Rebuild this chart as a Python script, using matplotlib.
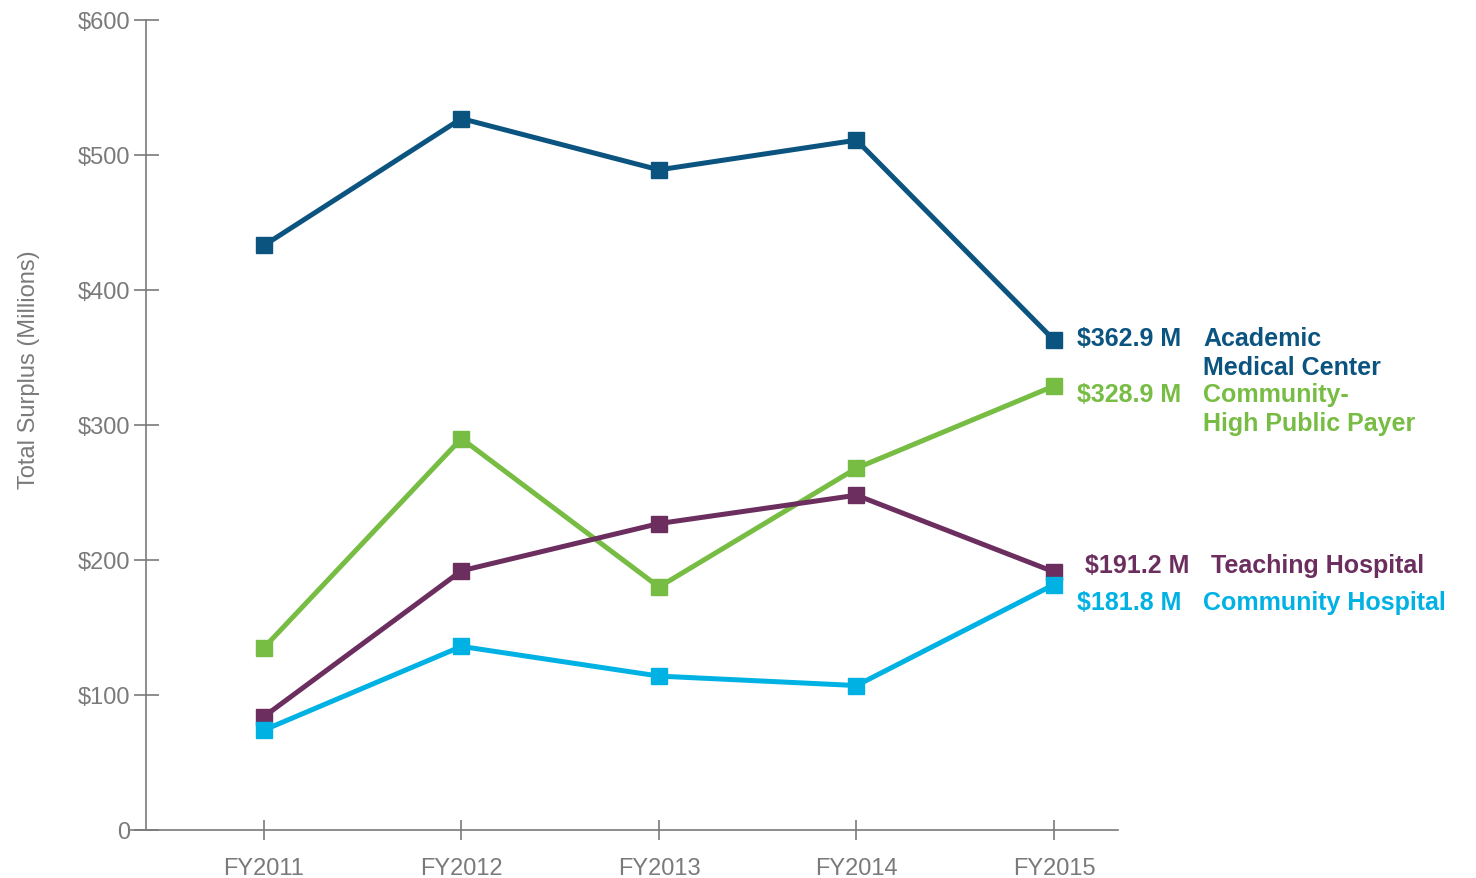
import matplotlib.pyplot as plt

years = ["FY2011", "FY2012", "FY2013", "FY2014", "FY2015"]
academic = [433, 527, 489, 511, 362.9]
community_hpp = [135, 290, 180, 268, 328.9]
teaching = [84, 192, 227, 248, 191.2]
community = [74, 136, 114, 107, 181.8]

y_ticks = [0, 100, 200, 300, 400, 500, 600]
y_tick_labels = ["0", "$100", "$200", "$300", "$400", "$500", "$600"]

series = [
	(academic, "#0b5480", "$362.9 M", ["Academic", "Medical Center"], 2),
	(community_hpp, "#77bc43", "$328.9 M", ["Community-", "High Public Payer"], -8),
	(teaching, "#6b2e5e", "$191.2 M", ["Teaching Hospital"], 7),
	(community, "#00b2e3", "$181.8 M", ["Community Hospital"], -17),
]

label_font = ["Liberation Sans", "DejaVu Sans"]
tick_font = ["Liberation Sans", "DejaVu Sans"]
gray = "#7a7a7a"

fig = plt.figure(figsize=(14.76, 8.79), dpi=100)
ax = fig.add_axes([131 / 1476, 48 / 879, 987 / 1476, 810 / 879])

x = list(range(len(years)))
for values, color, val_label, names, dy in series:
	ax.plot(x, values, color=color, linewidth=3.6, marker="s", markersize=11.5,
			solid_joinstyle="miter", clip_on=False, zorder=3)
	ax.annotate(val_label, xy=(x[-1], values[-1]), xytext=(23 if dy < 5 else 31, dy),
				textcoords="offset pixels", color=color, fontsize=18, fontweight="bold",
				family=label_font, va="center", ha="left")
	for i, name in enumerate(names):
		ax.annotate(name, xy=(x[-1], values[-1]), xytext=(149 if dy < 5 else 157, dy - 29 * i),
					textcoords="offset pixels", color=color, fontsize=18, fontweight="bold",
					family=label_font, va="center", ha="left")

ax.set_xlim(-0.673, 4.324)
ax.set_ylim(0, 600)

for s in ["top", "right"]:
	ax.spines[s].set_visible(False)
ax.spines["left"].set_position(("axes", 15 / 987))
ax.spines["left"].set_color(gray)
ax.spines["bottom"].set_color(gray)
ax.spines["left"].set_linewidth(1.2)
ax.spines["bottom"].set_linewidth(1.2)

ax.set_yticks(y_ticks)
ax.set_yticklabels(y_tick_labels, family=tick_font, fontsize=17, color=gray)
ax.set_xticks(x)
ax.set_xticklabels(years, family=tick_font, fontsize=17, color=gray)
ax.tick_params(axis="y", direction="inout", length=18, width=1.2, color=gray, pad=2)
ax.tick_params(axis="x", direction="inout", length=14.5, width=1.2, color=gray, pad=12)

ax.set_ylabel("Total Surplus (Millions)", family=tick_font, fontsize=17, color=gray)
ax.yaxis.set_label_coords(-0.092, 0.569)

fig.savefig("out.png", dpi=100)
